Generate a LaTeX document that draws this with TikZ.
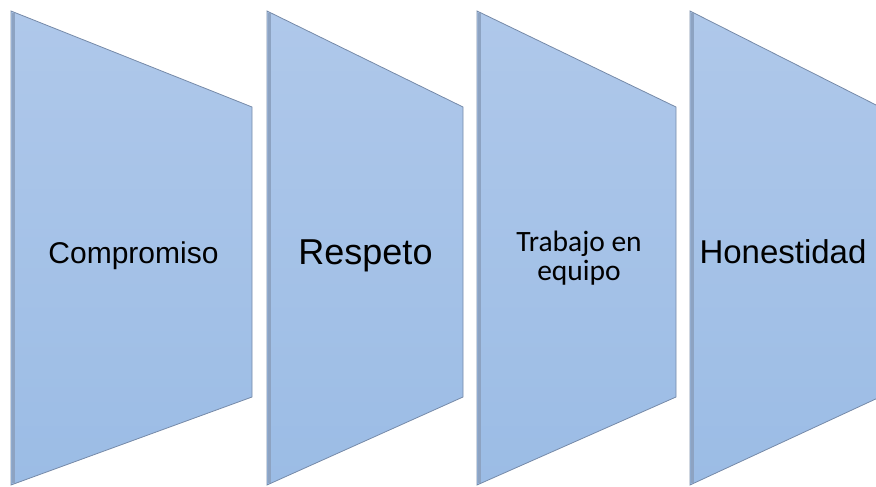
\documentclass[tikz,border=0pt]{standalone}
\usepackage{fontspec}
\setmainfont{Liberation Sans}
\newfontfamily\carlito{Carlito}
\usetikzlibrary{positioning}

\definecolor{bandatop}{RGB}{175,200,234}
\definecolor{bandabot}{RGB}{155,188,229}
\definecolor{bordo}{RGB}{118,138,168}

\tikzset{
  banda/.style={draw=bordo, line width=0.8pt, top color=bandatop, bottom color=bandabot},
  ombra/.style={draw=bordo!60!bandatop, line width=3pt},
  etichetta/.style={align=center, inner sep=0pt, text=black}
}

\begin{document}
\begin{tikzpicture}[x=1pt,y=-1pt]
            % Area
            \useasboundingbox (0,0) rectangle (876,487);
            \clip (0,0) rectangle (876,487);

            % Trapezi
            \foreach \l/\r in {11/252,267/463,477/676,690/880}
            {
            \draw[banda] (\l,11) -- (\r,107) -- (\r,397) -- (\l,485) -- cycle;
            \draw[ombra] (\l+2,13) -- (\l+2,483);
            }

            % Etichette
            \node[etichetta, anchor=base, font=\fontsize{30}{36}\selectfont] (compromiso) at (133.5,263) {Compromiso};
            \node[etichetta, anchor=base, font=\fontsize{36}{42}\selectfont] (respeto) at (365.5,264) {Respeto};
            \node[etichetta, font=\carlito\fontsize{29.5}{29}\selectfont] (trabajo) at (579,258) {Trabajo en\\ equipo};
            \node[etichetta, anchor=base, font=\fontsize{33}{40}\selectfont] (honestidad) at (783,263) {Honestidad};
        \end{tikzpicture}
\end{document}
